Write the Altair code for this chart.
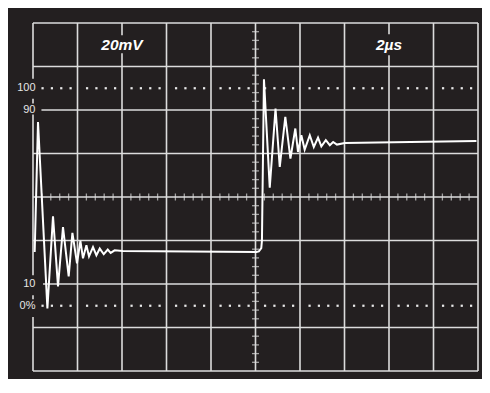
import altair as alt
import pandas as pd

# ---- waveform trace (time in µs, amplitude in % of step) ----
trace_us = [0.076, 0.225, 0.647, 0.899, 1.124, 1.348, 1.604, 1.771, 1.978, 2.13,
            2.247, 2.40, 2.517, 2.697, 2.85, 3.00, 3.18, 3.36, 3.49, 3.67,
            4.03, 10.04, 10.15, 10.26, 10.29, 10.38, 10.64, 10.90, 11.09, 11.34,
            11.57, 11.79, 11.91, 12.06, 12.21, 12.44, 12.62, 12.81, 12.96, 13.16,
            13.34, 13.49, 13.66, 14.01, 19.93]
trace_pct = [24.7, 84.5, -1.2, 41.1, 8.9, 36.2, 13.5, 33.5, 19.5, 29.8,
             21.8, 27.8, 22.7, 27.0, 23.2, 26.3, 23.7, 25.8, 24.3, 25.5,
             25.2, 24.7, 25.0, 26.5, 30.0, 104.1, 54.3, 90.6, 63.8, 86.8,
             67.7, 81.5, 70.7, 78.4, 71.8, 78.4, 73.0, 77.3, 73.3, 76.1,
             73.8, 75.3, 74.1, 74.8, 75.8]

# ---- graticule ----
x_min, x_max = 0, 20          # 10 divisions of 2 µs
y_min, y_max = -30, 130       # 8 divisions of 20 %
v_line_x = [0, 0, 0, 0, 0, 2, 4, 4, 6, 8, 10, 12, 14, 16, 16, 18, 20]
v_line_y1 = [130, 95.2, 87.9, 4.8, -5.2, 130, 130, 116.1, 130, 130, 130, 130, 130, 130, 115.2, 130, 130]
v_line_y2 = [104.4, 93.0, 14.0, 3.0, -30, -30, 124.4, -30, -30, -30, -30, -30, -30, 124.8, -30, -30, -30]
h_line_y = [-30, -10, 10, 30, 50, 70, 90, 110, 130]
h_line_x1 = [0, 0, 0.45, 0, 0, 0, 0.38, 0, 0]
h_line_x2 = [20, 20, 20, 20, 20, 20, 20, 20, 20]

# minor ticks on the centre axes
hticks_us = [i * 0.4 for i in range(1, 50) if i % 5 != 0]
vticks_pct = [y_min + i * 4 for i in range(1, 40) if i % 5 != 0]

# dotted 0 % / 100 % reference lines
dot_offsets = [0.43, 0.85, 1.27, 1.69]
dot_levels = [100, 0]
dots = [(d * 2 + o, lvl) for lvl in dot_levels for d in range(10) for o in dot_offsets]

level_labels = ["100", "90", "10", "0%"]
level_values = [100, 90, 10, 0]

title_texts = ["20mV", "2µs"]
title_x = [4, 16]
title_y = [120, 120]

xs = alt.Scale(domain=[x_min, x_max], nice=False, zero=False)
ys = alt.Scale(domain=[y_min, y_max], nice=False, zero=False)

GRID = "#dcdcdc"

vdf = pd.DataFrame({"x": v_line_x, "y1": v_line_y1, "y2": v_line_y2})
hdf = pd.DataFrame({"y": h_line_y, "x1": h_line_x1, "x2": h_line_x2})
vgrid = alt.Chart(vdf).mark_rule(color=GRID, strokeWidth=1.6).encode(
    x=alt.X("x:Q", scale=xs, axis=None),
    y=alt.Y("y1:Q", scale=ys, axis=None),
    y2="y2:Q",
)
hgrid = alt.Chart(hdf).mark_rule(color=GRID, strokeWidth=1.6).encode(
    y=alt.Y("y:Q", scale=ys, axis=None),
    x=alt.X("x1:Q", scale=xs, axis=None),
    x2="x2:Q",
)

htick = alt.Chart(pd.DataFrame({"x": hticks_us, "y": [50] * len(hticks_us)})).mark_tick(
    color=GRID, orient="vertical", size=7, thickness=1.3
).encode(x=alt.X("x:Q", scale=xs, axis=None), y=alt.Y("y:Q", scale=ys, axis=None))

vtick = alt.Chart(pd.DataFrame({"y": vticks_pct, "x": [10] * len(vticks_pct)})).mark_tick(
    color=GRID, orient="horizontal", size=7, thickness=1.3
).encode(x=alt.X("x:Q", scale=xs, axis=None), y=alt.Y("y:Q", scale=ys, axis=None))

dotdf = pd.DataFrame(dots, columns=["x", "y"])
dotted = alt.Chart(dotdf).mark_square(color="#e8e8e8", size=5, opacity=1).encode(
    x=alt.X("x:Q", scale=xs, axis=None), y=alt.Y("y:Q", scale=ys, axis=None)
)

trace = alt.Chart(pd.DataFrame({"t": trace_us, "v": trace_pct, "o": range(len(trace_us))})).mark_line(
    color="#ffffff", strokeWidth=2, strokeJoin="miter", strokeMiterLimit=4
).encode(
    x=alt.X("t:Q", scale=xs, axis=None),
    y=alt.Y("v:Q", scale=ys, axis=None),
    order="o:Q",
)

labels = alt.Chart(pd.DataFrame({"label": level_labels, "y": level_values, "x": [0] * 4})).mark_text(
    color="#e6e6e6", font="Liberation Sans", fontSize=11, align="right", baseline="middle", dx=2.5
).encode(x=alt.X("x:Q", scale=xs, axis=None), y=alt.Y("y:Q", scale=ys, axis=None), text="label:N")

titles = alt.Chart(pd.DataFrame({"t": title_texts, "x": title_x, "y": title_y})).mark_text(
    color="#ffffff", font="Liberation Sans", fontSize=15.5, fontWeight="bold", fontStyle="italic",
    align="center", baseline="middle"
).encode(x=alt.X("x:Q", scale=xs, axis=None), y=alt.Y("y:Q", scale=ys, axis=None), text="t:N")

chart = alt.layer(hgrid, vgrid, htick, vtick, dotted, trace, labels, titles).properties(
    width=445,
    height=348,
    autosize=alt.AutoSizeParams(type="none"),
    padding={"left": 25, "top": 15, "right": 4, "bottom": 8},
    background="#231f20",
).configure_view(stroke=None)

chart.save("out.html", embed_options={"renderer": "svg", "actions": False})
